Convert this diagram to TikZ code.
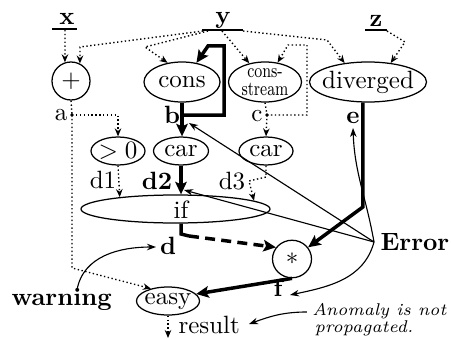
\documentclass[tikz,border=0pt]{standalone}
\usepackage{graphicx}
\usepackage{fontspec}
\usetikzlibrary{shapes.geometric,arrows.meta,calc}
\begin{document}
\begin{tikzpicture}[x=0.4pt,y=-0.4pt,
  txt/.style={font=\fontsize{10}{12}\selectfont, inner sep=0pt},
  btxt/.style={font=\fontsize{10}{12}\selectfont\bfseries, inner sep=0pt},
  itxt/.style={font=\fontsize{6.8}{8}\selectfont\itshape, inner sep=0pt},
  ell/.style={draw, ellipse, line width=0.5pt, inner xsep=-6pt, inner ysep=-4pt, font=\fontsize{10}{12}\selectfont},
  dotarr/.style={densely dotted, line width=0.55pt, -{Stealth[length=3.2pt,width=2.6pt]}},
  dotln/.style={densely dotted, line width=0.55pt},
  thk/.style={line width=1.4pt},
  thkarr/.style={line width=1.4pt, -{Stealth[length=5pt,width=4.6pt,inset=1pt]}},
  thnarr/.style={line width=0.45pt, -{Stealth[length=3.6pt,width=2.6pt]}},
  uline/.style={line width=0.6pt}
]
\useasboundingbox (0,0) rectangle (451,339);

% inputs
\node[btxt, anchor=base] (x) at (67,25) {x};
\node[btxt, anchor=base] (y) at (223,24) {y};
\node[btxt, anchor=base] (z) at (376,27) {z};
\draw[uline] (52,29) -- (77,29);
\draw[uline] (202,30) -- (243,30);
\draw[uline] (365,30) -- (387,30);

% operator nodes
\node[ell, minimum width=15.2pt, minimum height=15.2pt] (plus) at (71,81) {$+$};
\node[ell, minimum width=30.4pt, minimum height=16pt] (cons) at (182,82) {cons};
\node[ell, minimum width=29.2pt, minimum height=16pt, align=center, font=\fontsize{8}{7}\selectfont] (cs) at (265,82) {\scalebox{0.75}[1]{cons-}\\\scalebox{0.75}[1]{stream}};
\node[ell, minimum width=46.8pt, minimum height=16pt] (div) at (368,82) {diverged};
\node[ell, minimum width=21.6pt, minimum height=11.2pt] (gt) at (118,151) {$>0$};
\node[ell, minimum width=22pt, minimum height=11.2pt] (car1) at (181,151) {car};
\node[ell, minimum width=21.6pt, minimum height=11.2pt] (car2) at (266,151) {car};
\node[ell, minimum width=75.6pt, minimum height=11.2pt] (ifn) at (175.5,209) {};
\node[txt, anchor=base] (iftxt) at (181,218) {if};
\node[ell, minimum width=15.6pt, minimum height=15pt] (star) at (292,259) {$*$};
\node[ell, minimum width=25.2pt, minimum height=11.2pt] (easy) at (168,301) {easy};

% labels
\node[txt, anchor=base] (a) at (61,120) {a};
\node[btxt, anchor=base] (b) at (172,123) {b};
\node[txt, anchor=base] (c) at (257,121) {c};
\node[btxt, anchor=base] (e) at (353,123) {e};
\node[txt, anchor=base] (d1) at (103,188) {d1};
\node[btxt, anchor=base] (d2) at (157,189) {d2};
\node[txt, anchor=base] (d3) at (232,189) {d3};
\node[btxt, anchor=base] (d) at (168,254) {d};
\node[btxt, anchor=base] (f) at (278,296) {f};
\node[btxt, anchor=base west] (err) at (380,250) {Error};
\node[btxt, anchor=base west] (warn) at (11,305) {warning};
\node[txt, anchor=base west] (res) at (178,333) {result};
\node[itxt, anchor=base east] (anom1) at (447,315) {Anomaly is not};
\node[itxt, anchor=base west] (anom2) at (anom1.base west) [yshift=-6.8pt, xshift=1pt] {propagated.};

% coordinates
\coordinate (adot) at (72,115);
\coordinate (cdot) at (267,115);
\coordinate (xs) at (65,30);
\coordinate (y1) at (203,31);
\coordinate (y2) at (208,31);
\coordinate (y3) at (222,31);
\coordinate (y4) at (243,31);
\coordinate (z1) at (387,31);
\coordinate (rend) at (168,338);
\coordinate (bk) at (cons.south |- 0,115);
\coordinate (ifb) at (iftxt.base |- ifn.south);
\coordinate (dk) at (189,236);
\coordinate (ek) at (div.256 |- 0,207);
\coordinate (E) at (374,242);
\coordinate (bx) at (189,123);
\coordinate (d2x) at (184,190);
\coordinate (ex) at (353,128);
\coordinate (fx) at (290,295);
\coordinate (wk) at (77,290);
\coordinate (dx) at (156,247);
\coordinate (ak) at ($(anom1.base west)+(-5,-3)$);
\coordinate (rx) at (249,324);

\fill (adot) circle[radius=0.75pt];
\fill (cdot) circle[radius=0.75pt];

% dotted data flow
\draw[dotarr] (xs) -- (plus.108);
\draw[dotarr] (y1) -- (80,47) -- (plus.63);
\draw[dotarr] (y2) -- (145,47) -- (cons.127);
\draw[dotarr] (y3) -- (cs.130);
\draw[dotarr] (y4) -- (327,40) -- (div.141);
\draw[dotarr] (z1) -- (405,42) -- (div.40);
\draw[dotarr] (cdot) -- (307,115) -- (307,45) -- (288,45) -- (cs.57);
\draw[dotln] (plus.south) -- (adot);
\draw[dotarr] (adot) -- (118,115) -- (gt.north);
\draw[dotarr] (adot) -- (adot |- 0,268) -- (easy.144);
\draw[dotln] (cs.south) -- (cdot);
\draw[dotarr] (cdot) -- (car2.north);
\draw[dotarr] (gt.south) -- (ifn.168.9);
\draw[dotarr] (car2.south) -- (266,177) -- (249,181) -- (ifn.6.7);
\draw[dotarr] (easy.south) -- (rend);

% thick anomaly flow
\draw[thkarr] (cons.south) -- (cons.south |- car1.north);
\draw[thkarr] (bk) -- (224,115) -- (224,46) -- (208,46) -- (cons.53);
\draw[thkarr] (car1.south) -- (car1.south |- ifn.north);
\draw[thk] (ifb) -- (ifb |- 0,234) -- (dk);
\draw[thkarr, dash pattern=on 4pt off 2.5pt] (dk) -- (star.144);
\draw[thkarr] (div.256) -- (ek) -- (star.36);
\draw[thkarr] (star.south) -- (easy.14.5);

% thin annotation arrows
\draw[thnarr] (E) -- (bx);
\draw[thnarr] (E) -- (d2x);
\draw[thnarr] (E) to[out=100,in=-88] (ex);
\draw[thnarr] (E) to[out=-105,in=12] (fx);
\draw[thnarr] (wk) to[out=80,in=180] (dx);
\draw[thnarr] (ak) to[out=180,in=20] (rx);
\end{tikzpicture}
\end{document}
